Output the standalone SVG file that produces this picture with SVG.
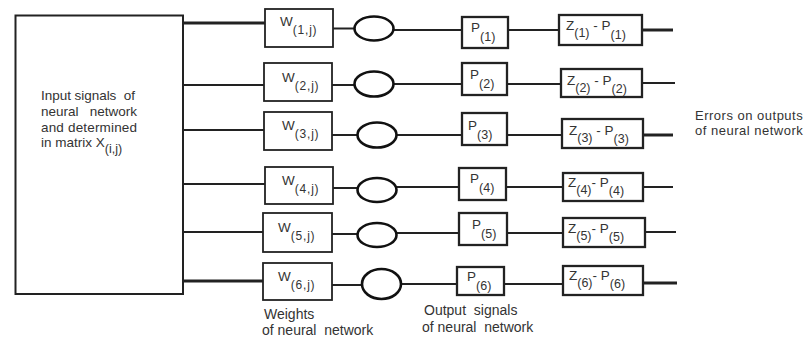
<svg xmlns="http://www.w3.org/2000/svg" width="807" height="340" viewBox="0 0 807 340">
<style>
text{font-family:"Liberation Sans",Arial,sans-serif;fill:#333;white-space:pre}
.inp{font-size:13.5px}
.cap{font-size:14px}
.err{font-size:13px;letter-spacing:0.5px}
.lbl{font-size:13.5px}
.sub{font-size:12.5px}
.wsub{font-size:12px;letter-spacing:0.8px}
.big{fill:#fff;stroke:#222;stroke-width:2}
.wb{fill:#fff;stroke:#222;stroke-width:1.8}
.pb{fill:#fff;stroke:#222;stroke-width:2.3}
.el{fill:#fff;stroke:#111;stroke-width:2.6}
.ln{stroke:#222;stroke-width:2;fill:none}
.lt{stroke:#222;stroke-width:3;fill:none}
</style>
<rect width="807" height="340" fill="#fff"/>
<g id="connectors">
<line class="lt" x1="183" y1="23" x2="265" y2="23"/>
<line class="ln" x1="183" y1="85" x2="264" y2="85"/>
<line class="ln" x1="183" y1="130" x2="264" y2="130"/>
<line class="ln" x1="183" y1="184" x2="265" y2="184"/>
<line class="ln" x1="183" y1="232" x2="263" y2="232"/>
<line class="lt" x1="183" y1="281" x2="263" y2="281"/>
<line class="ln" x1="333" y1="28.5" x2="354" y2="28.5"/>
<line class="ln" x1="332" y1="85" x2="355" y2="85"/>
<line class="ln" x1="332" y1="135" x2="358" y2="135"/>
<line class="ln" x1="333" y1="188" x2="358" y2="188"/>
<line class="ln" x1="332" y1="234" x2="358" y2="234"/>
<line class="ln" x1="332" y1="285" x2="362" y2="285"/>
<line class="ln" x1="394" y1="30" x2="462" y2="30"/>
<line class="ln" x1="393" y1="84" x2="462" y2="84"/>
<line class="ln" x1="396" y1="135" x2="462" y2="135"/>
<line class="ln" x1="396" y1="187" x2="459" y2="187"/>
<line class="ln" x1="396" y1="233" x2="459" y2="233"/>
<line class="ln" x1="401" y1="284" x2="457" y2="284"/>
<line class="ln" x1="508" y1="30" x2="559" y2="30"/>
<line class="ln" x1="507" y1="84" x2="561" y2="84"/>
<line class="ln" x1="507" y1="135" x2="562" y2="135"/>
<line class="ln" x1="506" y1="187" x2="563" y2="187"/>
<line class="ln" x1="507" y1="233" x2="563" y2="233"/>
<line class="ln" x1="504" y1="284" x2="563" y2="284"/>
<line class="lt" x1="642" y1="30" x2="673" y2="30"/>
<line class="ln" x1="642" y1="83" x2="675" y2="83"/>
<line class="lt" x1="643" y1="135" x2="673" y2="135"/>
<line class="ln" x1="643" y1="187" x2="673" y2="187"/>
<line class="ln" x1="645" y1="232" x2="676" y2="232"/>
<line class="lt" x1="643" y1="283" x2="677" y2="283"/>
</g>
<g id="input">
<rect class="big" x="15.5" y="15.5" width="167.5" height="278.5"/>
<text class="inp" x="41" y="100" textLength="94" lengthAdjust="spacing">Input signals  of</text>
<text class="inp" x="41" y="116" textLength="96" lengthAdjust="spacing">neural   network</text>
<text class="inp" x="41" y="132" textLength="96" lengthAdjust="spacing">and determined</text>
<text class="inp" x="41" y="147">in matrix X<tspan class="sub" dy="6">(i,j)</tspan></text>
</g>
<g id="w1"><rect class="wb" x="265" y="9" width="68" height="38"/><text class="lbl" x="280" y="26">W<tspan class="wsub" dy="8">(1,j)</tspan></text></g>
<g id="w2"><rect class="wb" x="264" y="63" width="68" height="38"/><text class="lbl" x="282" y="82">W<tspan class="wsub" dy="8">(2,j)</tspan></text></g>
<g id="w3"><rect class="wb" x="264" y="112" width="68" height="38"/><text class="lbl" x="282" y="130">W<tspan class="wsub" dy="8">(3,j)</tspan></text></g>
<g id="w4"><rect class="wb" x="265" y="167" width="68" height="37"/><text class="lbl" x="282" y="185">W<tspan class="wsub" dy="8">(4,j)</tspan></text></g>
<g id="w5"><rect class="wb" x="263" y="213" width="69" height="39"/><text class="lbl" x="278" y="232">W<tspan class="wsub" dy="8">(5,j)</tspan></text></g>
<g id="w6"><rect class="wb" x="263" y="263" width="69" height="37"/><text class="lbl" x="278" y="281">W<tspan class="wsub" dy="8">(6,j)</tspan></text></g>
<g id="n1"><ellipse class="el" cx="374" cy="28.5" rx="19.5" ry="12"/></g>
<g id="n2"><ellipse class="el" cx="374" cy="84" rx="19.5" ry="12.5"/></g>
<g id="n3"><ellipse class="el" cx="377" cy="135" rx="19.5" ry="12.5"/></g>
<g id="n4"><ellipse class="el" cx="377" cy="190" rx="19.5" ry="12"/></g>
<g id="n5"><ellipse class="el" cx="377" cy="235" rx="19.5" ry="12"/></g>
<g id="n6"><ellipse class="el" cx="381.5" cy="284" rx="19.5" ry="15"/></g>
<g id="p1"><rect class="pb" x="462" y="17" width="46" height="31"/><text class="lbl" x="471" y="32">P<tspan class="sub" dy="9">(1)</tspan></text></g>
<g id="p2"><rect class="pb" x="462" y="63" width="45" height="32"/><text class="lbl" x="470" y="79">P<tspan class="sub" dy="9">(2)</tspan></text></g>
<g id="p3"><rect class="pb" x="462" y="113" width="45" height="32"/><text class="lbl" x="468" y="130">P<tspan class="sub" dy="9">(3)</tspan></text></g>
<g id="p4"><rect class="pb" x="459" y="168" width="47" height="32"/><text class="lbl" x="470" y="183">P<tspan class="sub" dy="9">(4)</tspan></text></g>
<g id="p5"><rect class="pb" x="459" y="213" width="48" height="32"/><text class="lbl" x="472" y="229">P<tspan class="sub" dy="9">(5)</tspan></text></g>
<g id="p6"><rect class="pb" x="457" y="267" width="47" height="28"/><text class="lbl" x="467" y="281">P<tspan class="sub" dy="9">(6)</tspan></text></g>
<g id="z1"><rect class="pb" x="559" y="15" width="83" height="30"/><text class="lbl" x="566" y="30">Z<tspan class="sub" dy="7">(1)</tspan><tspan dy="-7"> - P</tspan><tspan class="sub" dy="9">(1)</tspan></text></g>
<g id="z2"><rect class="pb" x="561" y="69" width="81" height="28"/><text class="lbl" x="567" y="85">Z<tspan class="sub" dy="7">(2)</tspan><tspan dy="-7"> - P</tspan><tspan class="sub" dy="8">(2)</tspan></text></g>
<g id="z3"><rect class="pb" x="562" y="119" width="81" height="29"/><text class="lbl" x="569" y="135">Z<tspan class="sub" dy="7">(3)</tspan><tspan dy="-7"> - P</tspan><tspan class="sub" dy="8">(3)</tspan></text></g>
<g id="z4"><rect class="pb" x="563" y="173" width="80" height="28"/><text class="lbl" x="568" y="187">Z<tspan class="sub" dy="7">(4)</tspan><tspan dy="-7">- P</tspan><tspan class="sub" dy="8">(4)</tspan></text></g>
<g id="z5"><rect class="pb" x="563" y="218" width="82" height="29"/><text class="lbl" x="568" y="233">Z<tspan class="sub" dy="7">(5)</tspan><tspan dy="-7">- P</tspan><tspan class="sub" dy="8">(5)</tspan></text></g>
<g id="z6"><rect class="pb" x="563" y="266" width="80" height="29"/><text class="lbl" x="569" y="280">Z<tspan class="sub" dy="7">(6)</tspan><tspan dy="-7">- P</tspan><tspan class="sub" dy="8">(6)</tspan></text></g>
<g id="captions">
<text class="cap" x="264" y="319">Weights</text>
<text class="cap" x="262" y="335">of neural  network</text>
<text class="cap" x="424" y="315">Output  signals</text>
<text class="cap" x="422" y="332">of neural  network</text>
<text class="err" x="695" y="120">Errors on outputs</text>
<text class="err" x="695" y="135">of neural network</text>
</g>
</svg>
